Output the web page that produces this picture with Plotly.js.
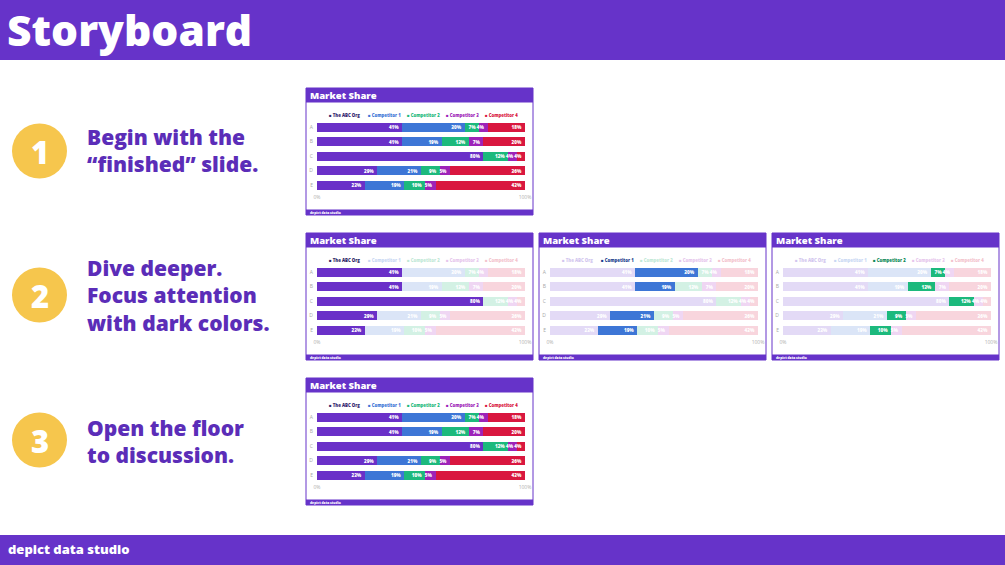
<!DOCTYPE html>
<html>
<head>
<meta charset="utf-8">
<script src="https://cdn.plot.ly/plotly-3.0.1.min.js"></script>
<style>
html,body{margin:0;padding:0;background:#fff;}
#chart{width:1005px;height:565px;}
</style>
</head>
<body>
<div id="chart"></div>
<script>
// ---- data ----
const categories = ['A', 'B', 'C', 'D', 'E'];
const seriesNames = ['The ABC Org', 'Competitor 1', 'Competitor 2', 'Competitor 3', 'Competitor 4'];
const abcOrg      = [41, 41, 80, 29, 23];
const competitor1 = [30, 19, 0, 21, 19];
const competitor2 = [7, 13, 12, 9, 10];
const competitor3 = [4, 7, 4, 5, 5];
const competitor4 = [18, 20, 4, 36, 43];
const xTickVals = [0, 100];
const xTickText = ['0%', '100%'];
const chartTitle = 'Market Share';
const slideFooter = 'depict data studio';
const pageTitle = 'Storyboard';
const pageFooter = 'depict data studio';
const stepNumbers = ['1', '2', '3'];
const stepLines = [
  ['Begin with the', '\u201Cfinished\u201D slide.'],
  ['Dive deeper.', 'Focus attention', 'with dark colors.'],
  ['Open the floor', 'to discussion.']
];

// ---- styles ----
const W = 1005, H = 565;
const PURPLE = '#6633c9';
const TEXT_PURPLE = '#5b2db8';
const YELLOW = '#f6c64d';
const FONT = '"Open Sans", Lato, sans-serif';
const fullColors  = ['#6a30c8', '#3d76d6', '#1cb97c', '#9d22b8', '#d9173f'];
const fadedColors = ['#e3daf6', '#dbe5f7', '#d3f1e4', '#efd6f3', '#f8d5dd'];
const legendFull  = ['#33246e', '#3d76d6', '#1cb97c', '#9d22b8', '#d9173f'];
const legendFaded = ['#d2c6ee', '#c9d8f3', '#bfe8d6', '#e6c6ec', '#f3c3cd'];
const legendFocus = ['#2c1f66', '#1e3f8f', '#0e8a58', '#6f1585', '#a20f2e'];
const seriesValues = [abcOrg, competitor1, competitor2, competitor3, competitor4];

// slides: origin in pixels and which series is focused (-1 = all)
const slides = [
  {ox: 306, oy: 88,  focus: -1},
  {ox: 306, oy: 233, focus: 0},
  {ox: 539, oy: 233, focus: 1},
  {ox: 772, oy: 233, focus: 2},
  {ox: 306, oy: 378, focus: -1}
];
const SW = 227, SH = 127;

const px = x => x / W;
const py = y => 1 - y / H;

const traces = [];
const layout = {
  width: W, height: H,
  margin: {l: 0, r: 0, t: 0, b: 0},
  paper_bgcolor: '#ffffff',
  plot_bgcolor: 'rgba(0,0,0,0)',
  barmode: 'stack',
  bargap: 0.38,
  showlegend: false,
  hovermode: false,
  shapes: [],
  annotations: [],
  font: {family: FONT}
};

// page header / footer
layout.shapes.push({type: 'rect', xref: 'paper', yref: 'paper', x0: 0, x1: 1, y0: py(60), y1: py(0), fillcolor: PURPLE, line: {width: 0}, layer: 'below'});
layout.shapes.push({type: 'rect', xref: 'paper', yref: 'paper', x0: 0, x1: 1, y0: py(565), y1: py(535), fillcolor: PURPLE, line: {width: 0}, layer: 'below'});
layout.annotations.push({xref: 'paper', yref: 'paper', x: px(5), y: py(30), xanchor: 'left', yanchor: 'middle', showarrow: false,
  text: pageTitle, font: {family: FONT, size: 42.5, color: '#ffffff', weight: 800}});
layout.annotations.push({xref: 'paper', yref: 'paper', x: px(6), y: py(549), xanchor: 'left', yanchor: 'middle', showarrow: false,
  text: pageFooter, font: {family: FONT, size: 13, color: '#ffffff', weight: 800}});

// steps
const stepCY = [151, 295, 440];
const stepTextCY = [150.5, 295, 441.5];
stepNumbers.forEach((n, i) => {
  const cy = stepCY[i], r = 27.5, cx = 39.5;
  layout.shapes.push({type: 'circle', xref: 'paper', yref: 'paper', x0: px(cx - r), x1: px(cx + r), y0: py(cy + r), y1: py(cy - r), fillcolor: YELLOW, line: {width: 0}, layer: 'below'});
  layout.annotations.push({xref: 'paper', yref: 'paper', x: px(cx), y: py(cy + 1), xanchor: 'center', yanchor: 'middle', showarrow: false,
    text: n, font: {family: FONT, size: 31, color: '#ffffff', weight: 800}});
  layout.annotations.push({xref: 'paper', yref: 'paper', x: px(85), y: py(stepTextCY[i]), xanchor: 'left', yanchor: 'middle', showarrow: false,
    align: 'left', text: stepLines[i].join('<br>'), font: {family: FONT, size: 21, color: TEXT_PURPLE, weight: 800}});
});

// mini slides
slides.forEach((s, k) => {
  const ox = s.ox, oy = s.oy;
  const xa = 'xaxis' + (k ? k + 1 : '');
  const ya = 'yaxis' + (k ? k + 1 : '');
  const xr = 'x' + (k ? k + 1 : '');
  const yr = 'y' + (k ? k + 1 : '');
  // slide frame
  layout.shapes.push({type: 'rect', xref: 'paper', yref: 'paper', x0: px(ox), x1: px(ox + SW), y0: py(oy + SH), y1: py(oy), fillcolor: '#ffffff', line: {color: PURPLE, width: 1}, layer: 'below'});
  layout.shapes.push({type: 'rect', xref: 'paper', yref: 'paper', x0: px(ox), x1: px(ox + SW), y0: py(oy + 14.5), y1: py(oy), fillcolor: PURPLE, line: {width: 0}, layer: 'below'});
  layout.shapes.push({type: 'rect', xref: 'paper', yref: 'paper', x0: px(ox), x1: px(ox + SW), y0: py(oy + SH), y1: py(oy + 121.5), fillcolor: PURPLE, line: {width: 0}, layer: 'below'});
  layout.annotations.push({xref: 'paper', yref: 'paper', x: px(ox + 2), y: py(oy + 7.3), xanchor: 'left', yanchor: 'middle', showarrow: false,
    text: chartTitle, font: {family: FONT, size: 9.5, color: '#ffffff', weight: 800}});
  layout.annotations.push({xref: 'paper', yref: 'paper', x: px(ox + 2), y: py(oy + 124.3), xanchor: 'left', yanchor: 'middle', showarrow: false,
    text: slideFooter, font: {family: FONT, size: 3.3, color: '#ffffff', weight: 800}});

  // legend
  seriesNames.forEach((name, i) => {
    let col;
    if (s.focus < 0) col = legendFull[i];
    else col = (i === s.focus) ? legendFocus[i] : legendFaded[i];
    layout.annotations.push({xref: 'paper', yref: 'paper', x: px(ox + 20.5 + i * 39.2), y: py(oy + 26.5), xanchor: 'left', yanchor: 'middle', showarrow: false,
      text: '\u25A0 ' + name, font: {family: FONT, size: 4.3, color: col, weight: 800}});
  });

  // axes
  layout[xa] = {domain: [px(ox + 11), px(ox + 219)], anchor: yr, range: [0, 100], fixedrange: true,
    showgrid: false, zeroline: false, showline: false, ticks: '',
    tickvals: xTickVals, ticktext: xTickText, tickfont: {family: FONT, size: 5, color: '#b0b0b0'}, ticklabelstandoff: 1};
  layout[ya] = {domain: [py(oy + 104.3), py(oy + 31.8)], anchor: xr, autorange: 'reversed', fixedrange: true,
    type: 'category', showgrid: false, zeroline: false, showline: false, ticks: '',
    tickfont: {family: FONT, size: 5, color: '#a8a8a8'}, ticklabelstandoff: 3};

  // bars
  seriesValues.forEach((vals, i) => {
    const color = (s.focus < 0 || s.focus === i) ? fullColors[i] : fadedColors[i];
    traces.push({
      type: 'bar', orientation: 'h', name: seriesNames[i],
      x: vals, y: categories, xaxis: xr, yaxis: yr,
      marker: {color: color, line: {width: 0}},
      text: vals.map(v => v > 0 ? v + '%' : ''),
      textposition: 'inside', insidetextanchor: 'end', constraintext: 'none', textangle: 0,
      textfont: {family: FONT, size: 4.6, color: '#ffffff', weight: 800},
      hoverinfo: 'skip'
    });
  });
});

Plotly.newPlot('chart', traces, layout, {displayModeBar: false, staticPlot: true});
</script>
</body>
</html>
